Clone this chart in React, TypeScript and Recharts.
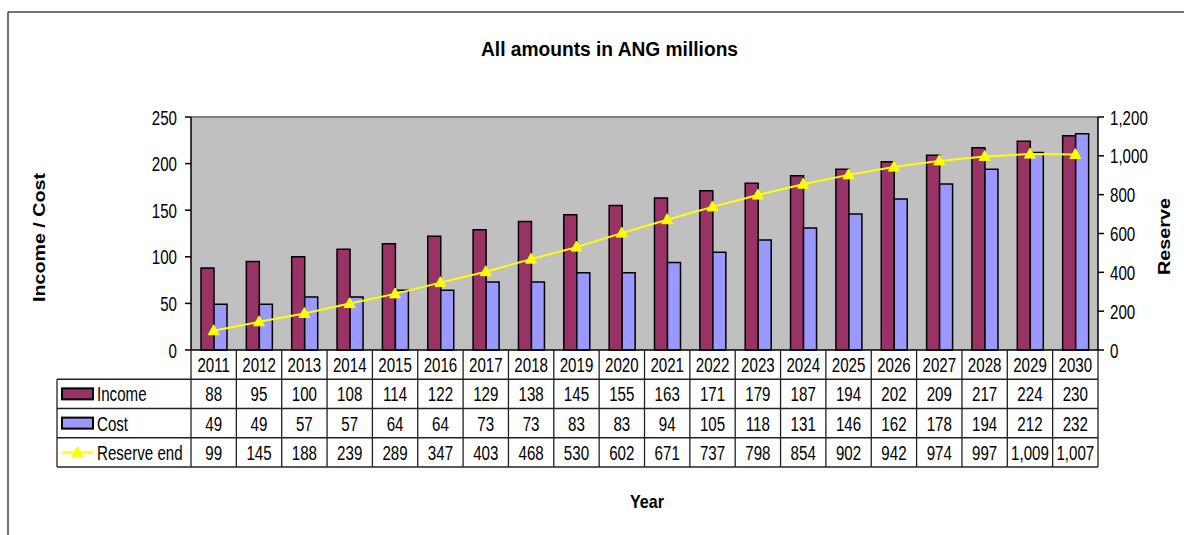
import React from 'react';
import { ComposedChart, Bar, Line, XAxis, YAxis, CartesianGrid, ReferenceLine } from 'recharts';

const years = ['2011', '2012', '2013', '2014', '2015', '2016', '2017', '2018', '2019', '2020', '2021', '2022', '2023', '2024', '2025', '2026', '2027', '2028', '2029', '2030'];
const income = [88, 95, 100, 108, 114, 122, 129, 138, 145, 155, 163, 171, 179, 187, 194, 202, 209, 217, 224, 230];
const cost = [49, 49, 57, 57, 64, 64, 73, 73, 83, 83, 94, 105, 118, 131, 146, 162, 178, 194, 212, 232];
const reserve = [99, 145, 188, 239, 289, 347, 403, 468, 530, 602, 671, 737, 798, 854, 902, 942, 974, 997, 1009, 1007];
const leftTicks = [0, 50, 100, 150, 200, 250];
const rightTicks = [0, 200, 400, 600, 800, 1000, 1200];

const data = years.map((year, i) => ({ year, income: income[i], cost: cost[i], reserve: reserve[i] }));

const W = 1184;
const H = 535;
const M = { top: 117, right: 26, bottom: 68, left: 131 };
const Y_W = 60;
const X_H = 117;
const CELL_W = (W - M.left - M.right - 2 * Y_W) / years.length;
const ROW_H = X_H / 4;
const LEG_W = 134;

const SANS = "'Liberation Sans', Arial, sans-serif";
const INCOME_C = '#993366';
const COST_C = '#9999FF';
const LINE_C = '#FFFF00';
const GRID_C = '#222';

const fmt = (v: number) => v.toLocaleString('en-US');

// the source uses a condensed face; squeeze the regular one horizontally
const NText = ({ x, y, anchor = 'start', children }: any) => (
  <text
    transform={`translate(${x},${y}) scale(0.72,1)`}
    textAnchor={anchor}
    fontFamily={SANS}
    fontSize={21}
    fill="#000"
  >
    {children}
  </text>
);

const Tri = ({ cx, cy }: { cx: number; cy: number }) => (
  <polygon points={`${cx},${cy - 6} ${cx - 5.5},${cy + 4} ${cx + 5.5},${cy + 4}`} fill={LINE_C} stroke={LINE_C} />
);

const AxisTick = (props: any) => {
  const { x, y, payload, textAnchor } = props;
  return <NText x={x} y={y + 7.5} anchor={textAnchor}>{fmt(payload.value)}</NText>;
};

const TableTick = (props: any) => {
  const { x, y, payload } = props;
  const i = payload.index;
  const left = x - CELL_W / 2;
  const right = x + CELL_W / 2;
  const rows = [0, 1, 2, 3, 4].map((k) => y + k * ROW_H);
  const mid = (k: number) => rows[k] + ROW_H / 2 + 7.5;
  const vals = [fmt(income[i]), fmt(cost[i]), fmt(reserve[i])];
  const lx = left - LEG_W;
  return (
    <g>
      <line x1={right} x2={right} y1={rows[0]} y2={rows[4]} stroke={GRID_C} strokeWidth={1.3} />
      {i === 0 && <line x1={left} x2={left} y1={rows[0]} y2={rows[4]} stroke={GRID_C} strokeWidth={1.3} />}
      {[1, 2, 3, 4].map((k) => (
        <line key={k} x1={i === 0 ? lx : left} x2={right} y1={rows[k]} y2={rows[k]} stroke={GRID_C} strokeWidth={1.3} />
      ))}
      <NText x={x} y={mid(0)} anchor="middle">{years[i]}</NText>
      {vals.map((v, k) => (
        <NText key={k} x={x} y={mid(k + 1)} anchor="middle">{v}</NText>
      ))}
      {i === 0 && (
        <g>
          <line x1={lx} x2={lx} y1={rows[1]} y2={rows[4]} stroke={GRID_C} strokeWidth={1.3} />
          <rect x={lx + 5} y={rows[1] + ROW_H / 2 - 5.5} width={31} height={11} fill={INCOME_C} stroke="#000" strokeWidth={2} />
          <NText x={lx + 40} y={mid(1)}>Income</NText>
          <rect x={lx + 5} y={rows[2] + ROW_H / 2 - 5.5} width={31} height={11} fill={COST_C} stroke="#000" strokeWidth={2} />
          <NText x={lx + 40} y={mid(2)}>Cost</NText>
          <line x1={lx + 5} x2={lx + 36} y1={rows[3] + ROW_H / 2} y2={rows[3] + ROW_H / 2} stroke={LINE_C} strokeWidth={2} />
          <Tri cx={lx + 20.5} cy={rows[3] + ROW_H / 2} />
          <NText x={lx + 40} y={mid(3)}>Reserve end</NText>
        </g>
      )}
    </g>
  );
};

export default function App() {
  return (
    <div style={{ position: 'absolute', left: 0, top: 0, width: W, height: H, overflow: 'hidden', background: '#fff' }}>
      <ComposedChart width={W} height={H} data={data} margin={M} barSize={13} barGap={0}>
        <CartesianGrid yAxisId="left" horizontal={false} vertical={false} fill="#C0C0C0" />
        <XAxis
          dataKey="year"
          height={X_H}
          interval={0}
          tickSize={0}
          tickMargin={0}
          tickLine={false}
          axisLine={{ stroke: '#000', strokeWidth: 1.5 }}
          tick={<TableTick />}
        />
        <YAxis
          yAxisId="left"
          width={Y_W}
          domain={[0, 250]}
          ticks={leftTicks}
          tickSize={6}
          tickMargin={8}
          tick={<AxisTick />}
          tickLine={{ stroke: '#000', strokeWidth: 1.5 }}
          axisLine={{ stroke: '#000', strokeWidth: 1.5 }}
        />
        <YAxis
          yAxisId="right"
          orientation="right"
          width={Y_W}
          domain={[0, 1200]}
          ticks={rightTicks}
          tickSize={6}
          tickMargin={6}
          tick={<AxisTick />}
          tickLine={{ stroke: '#000', strokeWidth: 1.5 }}
          axisLine={{ stroke: '#000', strokeWidth: 1.5 }}
        />
        <ReferenceLine yAxisId="left" y={250} stroke="#808080" strokeWidth={2} />
        <Bar yAxisId="left" dataKey="income" fill={INCOME_C} stroke="#000" strokeWidth={1.5} isAnimationActive={false} />
        <Bar yAxisId="left" dataKey="cost" fill={COST_C} stroke="#000" strokeWidth={1.5} isAnimationActive={false} />
        <Line
          yAxisId="right"
          dataKey="reserve"
          stroke={LINE_C}
          strokeWidth={2}
          dot={(p: any) => <Tri key={p.index} cx={p.cx} cy={p.cy} />}
          activeDot={false}
          isAnimationActive={false}
        />
      </ComposedChart>
      <svg width={W} height={H} style={{ position: 'absolute', left: 0, top: 0, pointerEvents: 'none' }}>
        <line x1={8} x2={W} y1={12} y2={12} stroke="#444" strokeWidth={1.5} />
        <line x1={8} x2={8} y1={12} y2={H} stroke="#444" strokeWidth={1.5} />
        <text x={609.5} y={56} textAnchor="middle" fontFamily={SANS} fontWeight="bold" fontSize={20} textLength={257} lengthAdjust="spacingAndGlyphs" fill="#000">
          All amounts in ANG millions
        </text>
        <text x={647} y={508} textAnchor="middle" fontFamily={SANS} fontWeight="bold" fontSize={19} textLength={34} lengthAdjust="spacingAndGlyphs" fill="#000">
          Year
        </text>
        <text transform="translate(45,237.5) rotate(-90)" textAnchor="middle" fontFamily={SANS} fontWeight="bold" fontSize={16} textLength={129} lengthAdjust="spacingAndGlyphs" fill="#000">
          Income / Cost
        </text>
        <text transform="translate(1170,236.5) rotate(-90)" textAnchor="middle" fontFamily={SANS} fontWeight="bold" fontSize={16} textLength={77} lengthAdjust="spacingAndGlyphs" fill="#000">
          Reserve
        </text>
      </svg>
    </div>
  );
}
